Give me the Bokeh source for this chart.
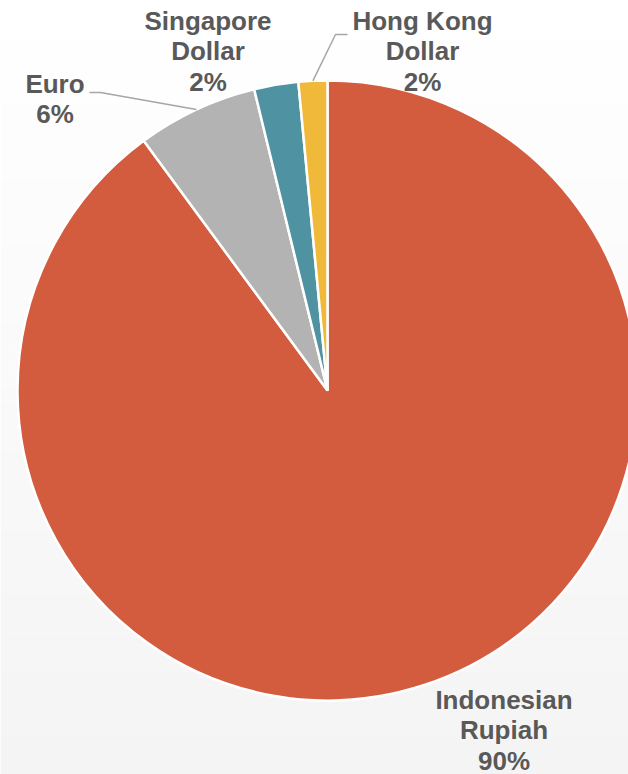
import numpy as np
from bokeh.plotting import figure
from bokeh.models import Range1d, ColumnDataSource
from bokeh.core.properties import value
from bokeh.embed import file_html
from bokeh.resources import INLINE

# ---- data ----
categories = ["Indonesian Rupiah", "Euro", "Singapore Dollar", "Hong Kong Dollar"]
shares = [89.9, 6.3, 2.3, 1.5]
colors = ["#D35B3E", "#B3B3B3", "#4F92A1", "#F0B93A"]

# ---- layout (pixels, y measured from top) ----
W, H = 628, 774
CX, CY, R = 327, 390, 310
label_x = [503.5, 54.5, 207.5, 422]
label_first_baseline = [699, 83, 20, 20]
LINE_STEP = 30.5
# leader lines (label-side points), None means no leader
leaders = [None, [(89, 92), (100, 92)], None, [(347, 34), (335, 34)]]

FONT = "Liberation Sans"
TEXT_COLOR = "#595959"

def fy(y):
    return H - y

p = figure(width=W, height=H, x_range=Range1d(0, W), y_range=Range1d(0, H),
           output_backend="svg", toolbar_location=None, min_border=0,
           x_axis_type=None, y_axis_type=None)
p.grid.visible = False
p.outline_line_color = None
p.background_fill_color = "white"
p.border_fill_color = "white"

# subtle vertical background gradient
n_bands = 60
edges = np.linspace(0, H, n_bands + 1)
band_cols = []
for i in range(n_bands):
    t = (i + 0.5) / n_bands
    g = int(round(255 - t * 11))
    band_cols.append("#%02x%02x%02x" % (g, g, g))
p.quad(left=0, right=W, top=[fy(e) for e in edges[:-1]], bottom=[fy(e) for e in edges[1:]],
       fill_color=band_cols, line_color=None)

# wedges, clockwise from 12 o'clock
vals = np.array(shares, dtype=float)
frac = vals / vals.sum()
cum = np.concatenate([[0], np.cumsum(frac)])
start = np.pi / 2 - cum[:-1] * 2 * np.pi
end = np.pi / 2 - cum[1:] * 2 * np.pi
src = ColumnDataSource(dict(start=start, end=end, color=colors, cat=categories))
p.wedge(x=CX, y=fy(CY), radius=R, start_angle="start", end_angle="end",
        direction="clock", fill_color="color", line_color="white", line_width=2.5,
        source=src)

# leader lines
mid = (start + end) / 2
for i, pts in enumerate(leaders):
    if pts is None:
        continue
    rx = CX + R * np.cos(mid[i])
    ry = fy(CY) + R * np.sin(mid[i])
    xs = [pt[0] for pt in pts] + [rx]
    ys = [fy(pt[1]) for pt in pts] + [ry]
    p.line(xs, ys, line_color="#A6A6A6", line_width=1.5)

# labels
tx, ty, tt = [], [], []
for i, cat in enumerate(categories):
    pct = f"{frac[i] * 100:.0f}%"
    words = cat.split(" ")
    if len(words) == 3:
        lines = [words[0] + " " + words[1], words[2], pct]
    elif len(words) == 2:
        lines = [words[0], words[1], pct]
    else:
        lines = [cat, pct]
    for j, ln in enumerate(lines):
        tx.append(label_x[i])
        ty.append(fy(label_first_baseline[i] + j * LINE_STEP))
        tt.append(ln)
p.text(x=tx, y=ty, text=tt, text_font=value(FONT), text_font_style="bold",
       text_font_size="26px", text_color=TEXT_COLOR, text_align="center",
       text_baseline="alphabetic")

open("out.html", "w").write(file_html(p, INLINE))
